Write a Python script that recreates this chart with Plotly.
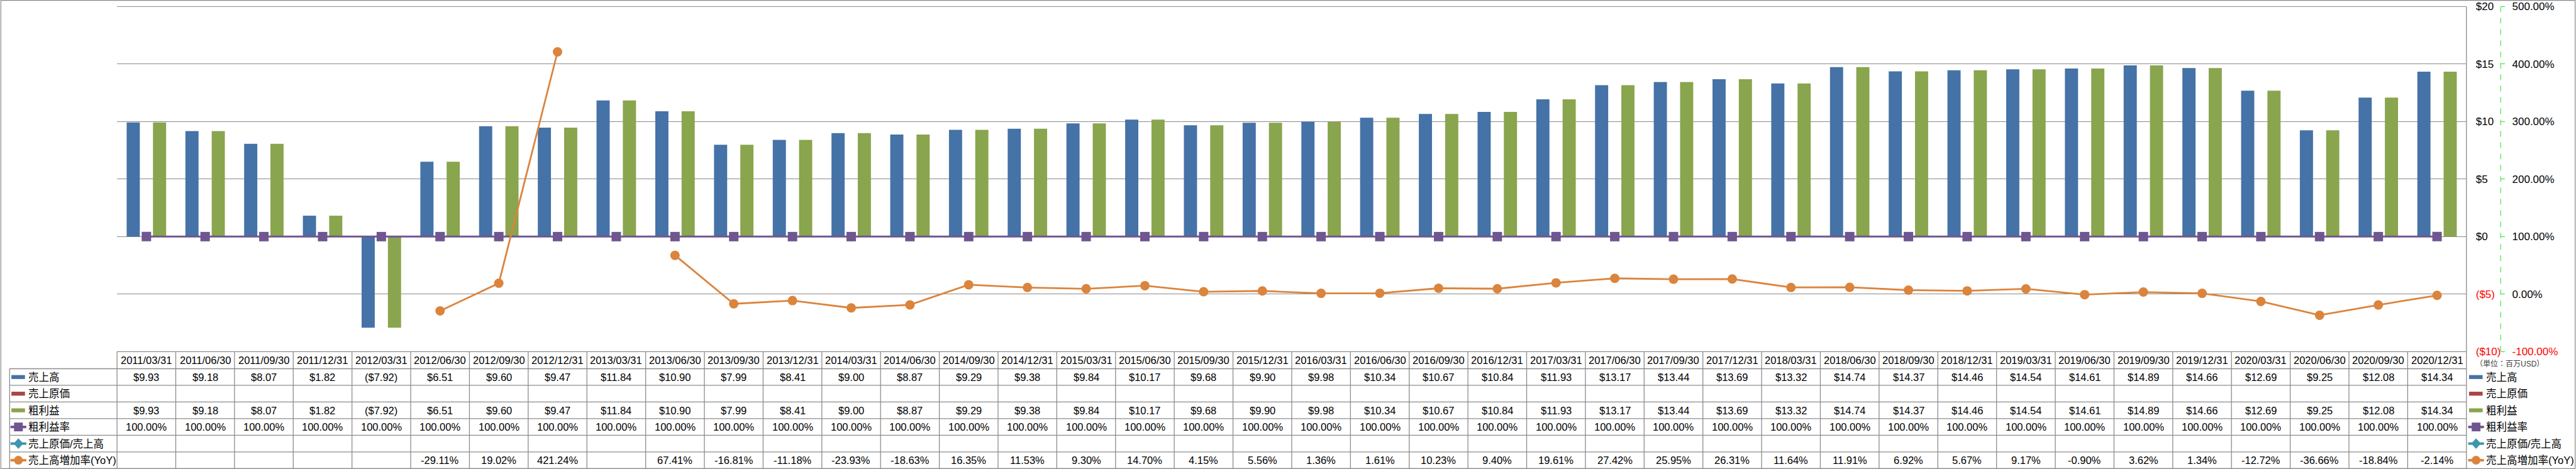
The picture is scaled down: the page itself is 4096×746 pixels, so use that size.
import plotly.graph_objects as go

# ---------------- data ----------------
dates = ["2011/03/31", "2011/06/30", "2011/09/30", "2011/12/31", "2012/03/31", "2012/06/30",
         "2012/09/30", "2012/12/31", "2013/03/31", "2013/06/30", "2013/09/30", "2013/12/31",
         "2014/03/31", "2014/06/30", "2014/09/30", "2014/12/31", "2015/03/31", "2015/06/30",
         "2015/09/30", "2015/12/31", "2016/03/31", "2016/06/30", "2016/09/30", "2016/12/31",
         "2017/03/31", "2017/06/30", "2017/09/30", "2017/12/31", "2018/03/31", "2018/06/30",
         "2018/09/30", "2018/12/31", "2019/03/31", "2019/06/30", "2019/09/30", "2019/12/31",
         "2020/03/31", "2020/06/30", "2020/09/30", "2020/12/31"]

sales = [9.93, 9.18, 8.07, 1.82, -7.92, 6.51, 9.60, 9.47, 11.84, 10.90,
         7.99, 8.41, 9.00, 8.87, 9.29, 9.38, 9.84, 10.17, 9.68, 9.90,
         9.98, 10.34, 10.67, 10.84, 11.93, 13.17, 13.44, 13.69, 13.32, 14.74,
         14.37, 14.46, 14.54, 14.61, 14.89, 14.66, 12.69, 9.25, 12.08, 14.34]

cost_of_sales = [None] * 40

gross_profit = [9.93, 9.18, 8.07, 1.82, -7.92, 6.51, 9.60, 9.47, 11.84, 10.90,
                7.99, 8.41, 9.00, 8.87, 9.29, 9.38, 9.84, 10.17, 9.68, 9.90,
                9.98, 10.34, 10.67, 10.84, 11.93, 13.17, 13.44, 13.69, 13.32, 14.74,
                14.37, 14.46, 14.54, 14.61, 14.89, 14.66, 12.69, 9.25, 12.08, 14.34]

gross_margin = [100.0, 100.0, 100.0, 100.0, 100.0, 100.0, 100.0, 100.0, 100.0, 100.0,
                100.0, 100.0, 100.0, 100.0, 100.0, 100.0, 100.0, 100.0, 100.0, 100.0,
                100.0, 100.0, 100.0, 100.0, 100.0, 100.0, 100.0, 100.0, 100.0, 100.0,
                100.0, 100.0, 100.0, 100.0, 100.0, 100.0, 100.0, 100.0, 100.0, 100.0]

cost_ratio = [None] * 40

sales_yoy = [None, None, None, None, None, -29.11, 19.02, 421.24, None, 67.41,
             -16.81, -11.18, -23.93, -18.63, 16.35, 11.53, 9.30, 14.70, 4.15, 5.56,
             1.36, 1.61, 10.23, 9.40, 19.61, 27.42, 25.95, 26.31, 11.64, 11.91,
             6.92, 5.67, 9.17, -0.90, 3.62, 1.34, -12.72, -36.66, -18.84, -2.14]

series_names = ["売上高", "売上原価", "粗利益", "粗利益率", "売上原価/売上高", "売上高増加率(YoY)"]

y1_ticks = [-10, -5, 0, 5, 10, 15, 20]
y2_ticks = [-100, 0, 100, 200, 300, 400, 500]
unit_label = "（単位：百万USD）"

# ---------------- geometry (reference pixels -> paper) ----------------
W, H = 4096, 746
RW, RH = 5877, 1071
S = W / RW

def px(x):
    return x / RW

def py(y):
    return 1 - y / RH

PLOT_L, PLOT_R, PLOT_T, PLOT_B = 267, 5627, 15, 803
ROWS = [803, 842, 880, 918, 956, 994, 1032, 1070]
LABEL_L = 22
Y2_LINE_X = 5705

C_BLUE = "#4572A7"
C_RED = "#AA4643"
C_GREEN = "#89A54E"
C_PURPLE = "#6F5690"
C_TEAL = "#3D96AE"
C_ORANGE = "#DB843D"
C_GRID = "#8A8A8A"
C_TABLE = "#8C8C8C"
FONT = "Liberation Sans, Noto Sans CJK JP, sans-serif"
FS = 16.5

x_idx = list(range(len(dates)))
BAR_W = 30 / 134

fig = go.Figure()
fig.add_trace(go.Bar(x=x_idx, y=sales, name=series_names[0], marker=dict(color=C_BLUE, line=dict(width=0)),
                     width=BAR_W, offset=-1.5 * BAR_W, showlegend=False))
fig.add_trace(go.Bar(x=x_idx, y=cost_of_sales, name=series_names[1], marker=dict(color=C_RED, line=dict(width=0)),
                     width=BAR_W, offset=-0.5 * BAR_W, showlegend=False))
fig.add_trace(go.Bar(x=x_idx, y=gross_profit, name=series_names[2], marker=dict(color=C_GREEN, line=dict(width=0)),
                     width=BAR_W, offset=0.5 * BAR_W, showlegend=False))
fig.add_trace(go.Scatter(x=x_idx, y=gross_margin, name=series_names[3], yaxis="y2", mode="lines+markers",
                         line=dict(color=C_PURPLE, width=3), marker=dict(symbol="square", size=15, color=C_PURPLE),
                         showlegend=False))
fig.add_trace(go.Scatter(x=x_idx, y=cost_ratio, name=series_names[4], yaxis="y2", mode="lines+markers",
                         line=dict(color=C_TEAL, width=3), marker=dict(symbol="diamond", size=15, color=C_TEAL),
                         showlegend=False))
fig.add_trace(go.Scatter(x=x_idx, y=sales_yoy, name=series_names[5], yaxis="y2", mode="lines+markers",
                         line=dict(color=C_ORANGE, width=2.8), marker=dict(symbol="circle", size=15, color=C_ORANGE),
                         connectgaps=False, showlegend=False))

def money(v):
    return "${:.0f}".format(v) if v >= 0 else "(${:.0f})".format(-v)

def money2(v):
    if v is None:
        return ""
    return "${:.2f}".format(v) if v >= 0 else "(${:.2f})".format(-v)

def pct(v):
    return "" if v is None else "{:.2f}%".format(v)

red = lambda t: '<span style="color:#FF0000">' + t + "</span>"
y1_text = [red(money(v)) if v < 0 else money(v) for v in y1_ticks]
y2_text = [red(pct(v)) if v < 0 else pct(v) for v in y2_ticks]

shapes = []
annotations = []

def hline(x0, x1, y, color=C_TABLE, width=1.3):
    shapes.append(dict(type="line", xref="paper", yref="paper", x0=px(x0), x1=px(x1), y0=py(y), y1=py(y),
                       line=dict(color=color, width=width)))

# outer border
shapes.append(dict(type="rect", xref="paper", yref="paper", x0=px(2), x1=px(5875), y0=py(1070), y1=py(1),
                   line=dict(color=C_GRID, width=1.2), fillcolor="rgba(0,0,0,0)", layer="below"))
# plot top boundary and right border
hline(PLOT_L, PLOT_R, PLOT_T, C_GRID, 1)
shapes.append(dict(type="line", xref="x domain", yref="paper", x0=1, x1=1, y0=py(1070), y1=py(PLOT_T),
                   line=dict(color=C_TABLE, width=1.3)))
# table horizontal lines
hline(PLOT_L, PLOT_R, ROWS[0])
for yy in ROWS[1:]:
    hline(LABEL_L, PLOT_R, yy)
# table vertical lines
shapes.append(dict(type="line", xref="paper", yref="paper", x0=px(LABEL_L), x1=px(LABEL_L), y0=py(ROWS[-1]), y1=py(ROWS[1]),
                   line=dict(color=C_TABLE, width=1.3)))
shapes.append(dict(type="line", xref="x domain", yref="paper", x0=0, x1=0, y0=py(ROWS[-1]), y1=py(ROWS[0]),
                   line=dict(color=C_TABLE, width=1.3)))
for k in range(1, len(dates)):
    shapes.append(dict(type="line", xref="x", yref="paper", x0=k - 0.5, x1=k - 0.5, y0=py(ROWS[-1]), y1=py(ROWS[0]),
                       line=dict(color=C_TABLE, width=1.3)))
# secondary axis dashed line
shapes.append(dict(type="line", xref="paper", yref="paper", x0=px(Y2_LINE_X), x1=px(Y2_LINE_X), y0=py(PLOT_B), y1=py(PLOT_T),
                   line=dict(color="#22DD22", width=1, dash="dash")))

def cell(i, row, text):
    if text == "":
        return
    yc = py((ROWS[row] + ROWS[row + 1]) / 2)
    annotations.append(dict(x=i, y=yc, xref="x", yref="paper", text=text, showarrow=False,
                            font=dict(family=FONT, size=FS, color="#000000"), xanchor="center", yanchor="middle"))

for i in x_idx:
    cell(i, 0, dates[i])
    cell(i, 1, money2(sales[i]))
    cell(i, 2, money2(cost_of_sales[i]))
    cell(i, 3, money2(gross_profit[i]))
    cell(i, 4, pct(gross_margin[i]))
    cell(i, 5, pct(cost_ratio[i]))
    cell(i, 6, pct(sales_yoy[i]))

key_styles = [("bar", C_BLUE, None), ("bar", C_RED, None), ("bar", C_GREEN, None),
              ("line", C_PURPLE, "square"), ("line", C_TEAL, "diamond"), ("line", C_ORANGE, "circle")]

def key(x0, yc, style):
    kind, color, sym = style
    if kind == "bar":
        shapes.append(dict(type="rect", xref="paper", yref="paper", x0=px(x0 + 2), x1=px(x0 + 33),
                           y0=py(yc + 4.5), y1=py(yc - 4.5), line=dict(width=0), fillcolor=color))
        return
    shapes.append(dict(type="line", xref="paper", yref="paper", x0=px(x0), x1=px(x0 + 36), y0=py(yc), y1=py(yc),
                       line=dict(color=color, width=4)))
    cx, r = x0 + 18, 10
    if sym == "square":
        shapes.append(dict(type="rect", xref="paper", yref="paper", x0=px(cx - r), x1=px(cx + r), y0=py(yc + r),
                           y1=py(yc - r), line=dict(width=0), fillcolor=color))
    elif sym == "circle":
        shapes.append(dict(type="circle", xref="paper", yref="paper", x0=px(cx - r), x1=px(cx + r), y0=py(yc + r),
                           y1=py(yc - r), line=dict(width=0), fillcolor=color))
    else:
        path = "M {a},{b} L {c},{d} L {a},{e} L {f},{d} Z".format(
            a=px(cx), b=py(yc - 12), c=px(cx + 11), d=py(yc), e=py(yc + 12), f=px(cx - 11))
        shapes.append(dict(type="path", xref="paper", yref="paper", path=path, line=dict(width=0), fillcolor=color))

for r, name in enumerate(series_names):
    yc = (ROWS[r + 1] + ROWS[r + 2]) / 2
    # left row labels
    key(24, yc, key_styles[r])
    annotations.append(dict(x=px(62), y=py(yc), xref="paper", yref="paper", text=name, showarrow=False,
                            font=dict(family=FONT, size=FS, color="#000000"), xanchor="left", yanchor="middle"))
    # right legend
    key(5631, yc, key_styles[r])
    annotations.append(dict(x=px(5669), y=py(yc), xref="paper", yref="paper", text=name, showarrow=False,
                            font=dict(family=FONT, size=FS, color="#000000"), xanchor="left", yanchor="middle"))

annotations.append(dict(x=px(5645), y=py(831), xref="paper", yref="paper", text=unit_label, showarrow=False,
                        font=dict(family=FONT, size=12, color="#404040"), xanchor="left", yanchor="middle"))

fig.update_layout(
    template="none",
    width=W, height=H, autosize=False,
    margin=dict(l=0, r=0, t=0, b=0, pad=0),
    paper_bgcolor="#FFFFFF", plot_bgcolor="#FFFFFF",
    barmode="overlay",
    showlegend=False,
    font=dict(family=FONT, size=FS, color="#000000"),
    xaxis=dict(domain=[px(PLOT_L), px(PLOT_R)], range=[-0.5, len(dates) - 0.5], showticklabels=False,
               showgrid=False, zeroline=False, showline=False, ticks="", automargin=False, fixedrange=True),
    yaxis=dict(domain=[py(PLOT_B), py(PLOT_T)], range=[-10, 20], side="right", anchor="x",
               tickvals=y1_ticks, ticktext=y1_text, showgrid=True, gridcolor=C_GRID, gridwidth=1,
               zeroline=True, zerolinecolor=C_GRID, zerolinewidth=1, showline=False, ticks="",
               ticklabelstandoff=14, automargin=False, tickfont=dict(family=FONT, size=17, color="#000000")),
    yaxis2=dict(domain=[py(PLOT_B), py(PLOT_T)], range=[-100, 500], overlaying="y", side="right",
                anchor="free", position=px(Y2_LINE_X), tickvals=y2_ticks, ticktext=y2_text,
                showgrid=False, zeroline=False, showline=False, ticks="outside", ticklen=6,
                tickcolor="#22DD22", tickwidth=1, ticklabelstandoff=8, automargin=False,
                tickfont=dict(family=FONT, size=17, color="#000000")),
    shapes=shapes,
    annotations=annotations,
)

fig.write_html("out.html", config={"displayModeBar": False},
               post_script="document.body.style.margin='0';document.body.style.overflow='hidden';")
